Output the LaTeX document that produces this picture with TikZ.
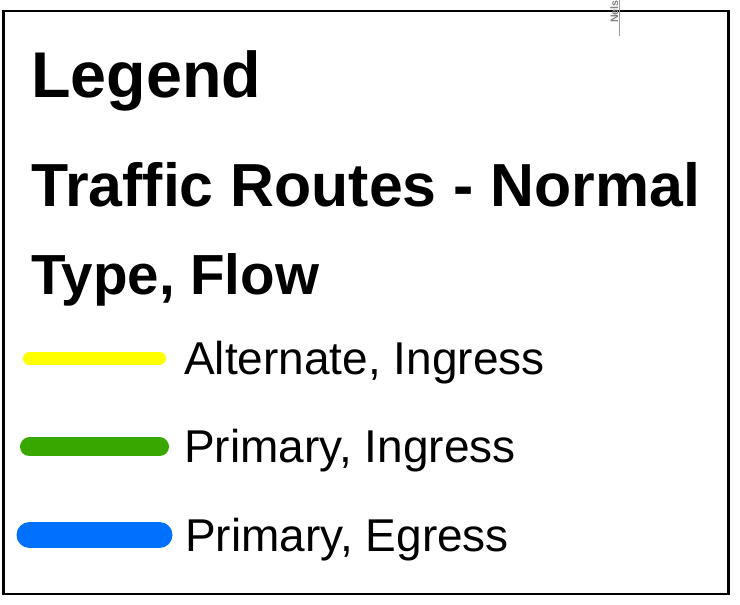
\documentclass[tikz,border=0pt]{standalone}
\usepackage{fontspec}
\setmainfont{Liberation Sans}
\definecolor{altyellow}{HTML}{FFFF00}
\definecolor{priingress}{HTML}{38A800}
\definecolor{priegress}{HTML}{0070FF}
\tikzset{
  head/.style={anchor=base west, inner sep=0pt, font=\bfseries\fontsize{#1}{#1}\selectfont},
  item/.style={anchor=base west, inner sep=0pt, font=\fontsize{34.5}{34.5}\selectfont},
  route/.style={line cap=round, line width=#1}
}
\begin{document}
\begin{tikzpicture}[x=0.75pt,y=-0.75pt]
       \useasboundingbox (0,0) rectangle (740,605);
       \draw[black, line width=1.9pt] (3.5,10.8) rectangle (728.5,594);
       \draw[black!40, line width=0.6pt] (619.5,0) -- (619.5,36);
       \node[rotate=90, anchor=base west, inner sep=0pt, text=black!50, font=\bfseries\fontsize{8}{8}\selectfont] (nels) at (618,23) {Nels};
       \node[head=48.5] (legend) at (31,98) {Legend};
       \node[head=45.6] (routes) at (31,207) {Traffic Routes - Normal};
       \node[head=42.4] (typeflow) at (31,295) {Type, Flow};
       \coordinate (a1) at (29.5,358.5); \coordinate (a2) at (159.5,358.5);
       \coordinate (g1) at (29.5,447); \coordinate (g2) at (159.5,447);
       \coordinate (b1) at (29.5,535); \coordinate (b2) at (159.5,535);
       \draw[route=9.75pt, altyellow] (a1) -- (a2);
       \draw[route=14.25pt, priingress] (g1) -- (g2);
       \draw[route=19.5pt, priegress] (b1) -- (b2);
       \node[item] (alt) at (184,375) {Alternate, Ingress};
       \node[item] (ping) at (184,463) {Primary, Ingress};
       \node[item] (pegr) at (185,552) {Primary, Egress};
\end{tikzpicture}
\end{document}
